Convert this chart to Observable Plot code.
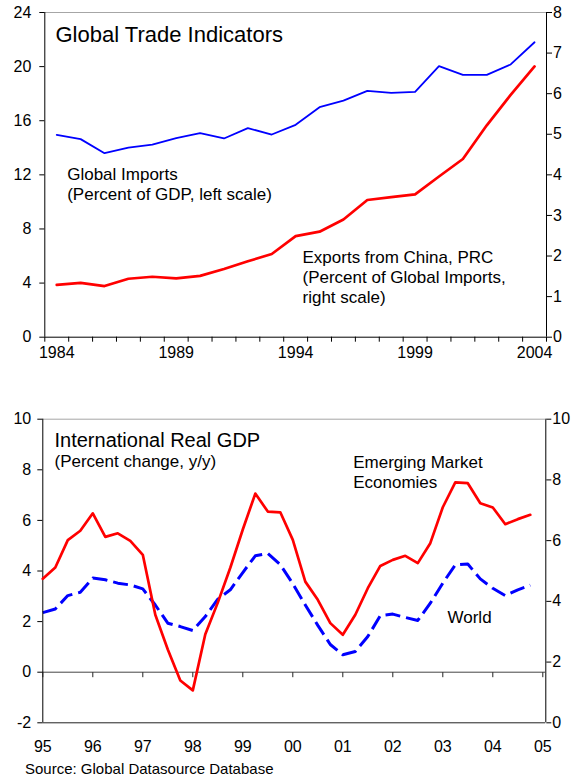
<!DOCTYPE html>
<html>
<head>
<meta charset="utf-8">
<script src="https://cdn.jsdelivr.net/npm/d3@7"></script>
<script src="https://cdn.jsdelivr.net/npm/@observablehq/plot@0.6"></script>
<style>
  html, body { margin: 0; padding: 0; background: #fff; }
  #wrap { position: relative; width: 573px; height: 778px; overflow: hidden;
          font-family: "Liberation Sans", Arial, sans-serif; color: #000; }
  .layer { position: absolute; left: 0; }
  .layer svg { display: block; background: transparent; }
  .caption { position: absolute; left: 25px; top: 761px; font-size: 15px; line-height: 15px; white-space: nowrap; }
</style>
</head>
<body>
<div id="wrap"></div>
<script>
// ---------- Top chart: Global Trade Indicators (annual) ----------
const tradeYears = [1984, 1985, 1986, 1987, 1988, 1989, 1990, 1991, 1992, 1993, 1994,
                    1995, 1996, 1997, 1998, 1999, 2000, 2001, 2002, 2003, 2004];
// Global imports, percent of GDP (left scale)
const globalImports = [14.96, 14.64, 13.60, 14.02, 14.24, 14.71, 15.08, 14.69, 15.45, 14.98, 15.70,
                       17.00, 17.49, 18.21, 18.06, 18.14, 20.03, 19.39, 19.39, 20.16, 21.80];
// Exports from China, percent of global imports (right scale)
const chinaExports = [1.29, 1.34, 1.26, 1.44, 1.49, 1.45, 1.51, 1.68, 1.87, 2.05, 2.49,
                      2.60, 2.90, 3.38, 3.45, 3.52, 3.96, 4.39, 5.22, 5.97, 6.67];
const tradeTickLabels = [1984, 1989, 1994, 1999, 2004];
const tradeLeftTicks = [0, 4, 8, 12, 16, 20, 24];
const tradeRightTicks = [0, 1, 2, 3, 4, 5, 6, 7, 8];

// ---------- Bottom chart: International Real GDP (quarterly) ----------
const gdpQuarters = [1995.00, 1995.25, 1995.50, 1995.75, 1996.00, 1996.25, 1996.50, 1996.75,
                     1997.00, 1997.25, 1997.50, 1997.75, 1998.00, 1998.25, 1998.50, 1998.75,
                     1999.00, 1999.25, 1999.50, 1999.75, 2000.00, 2000.25, 2000.50, 2000.75,
                     2001.00, 2001.25, 2001.50, 2001.75, 2002.00, 2002.25, 2002.50, 2002.75,
                     2003.00, 2003.25, 2003.50, 2003.75, 2004.00, 2004.25, 2004.50, 2004.75];
// Emerging market economies, % y/y (left scale)
const emergingMarkets = [3.69, 4.14, 5.22, 5.59, 6.28, 5.35, 5.49, 5.19,
                         4.64, 2.27, 0.90, -0.33, -0.72, 1.50, 2.75, 4.13,
                         5.64, 7.06, 6.35, 6.32, 5.23, 3.58, 2.86, 1.94,
                         1.48, 2.27, 3.32, 4.20, 4.44, 4.60, 4.31, 5.10,
                         6.52, 7.50, 7.47, 6.68, 6.51, 5.85, 6.05, 6.22];
// World, % y/y (right scale)
const worldGdp = [3.63, 3.75, 4.19, 4.30, 4.77, 4.71, 4.60, 4.54,
                  4.41, 3.88, 3.28, 3.17, 3.04, 3.50, 4.07, 4.38,
                  4.95, 5.50, 5.58, 5.21, 4.58, 3.88, 3.21, 2.58,
                  2.24, 2.35, 2.84, 3.53, 3.58, 3.47, 3.37, 3.94,
                  4.60, 5.20, 5.23, 4.74, 4.43, 4.19, 4.38, 4.53];
const gdpTickYears = [1995, 1996, 1997, 1998, 1999, 2000, 2001, 2002, 2003, 2004, 2005];
const gdpTickLabels = ["95", "96", "97", "98", "99", "00", "01", "02", "03", "04", "05"];
const gdpLeftTicks = [-2, 0, 2, 4, 6, 8, 10];
const gdpRightTicks = [0, 2, 4, 6, 8, 10];

// ---------- Texts ----------
const topTitle = "Global Trade Indicators";
const importsLabel = "Global Imports\n(Percent of GDP, left scale)";
const chinaLabel = "Exports from China, PRC\n(Percent of Global Imports,\nright scale)";
const gdpTitle = "International Real GDP";
const gdpSubtitle = "(Percent change, y/y)";
const emLabel = "Emerging Market\nEconomies";
const worldLabel = "World";
const sourceText = "Source: Global Datasource Database";

// ---------- Build ----------
const FONT = '"Liberation Sans", Arial, sans-serif';
const W = 573;
const RED = "#ff0000", BLUE = "#0000ff";
const wrap = document.getElementById("wrap");
function place(node, top) {
  const d = document.createElement("div");
  d.className = "layer";
  d.style.top = top + "px";
  d.appendChild(node);
  wrap.appendChild(d);
}
const baseStyle = {fontFamily: FONT, fontSize: "16px", color: "#000", background: "transparent", overflow: "visible"};

const tradeData = tradeYears.map((year, i) => ({year, imports: globalImports[i], china: chinaExports[i]}));
const tradeBounds = d3.range(1983.5, 2005, 1);
const topDims = {width: W, height: 380, marginLeft: 44.3, marginRight: 27, marginTop: 12, marginBottom: 43.3};
const tradeX = {domain: [1983.5, 2004.5]};

const topLeft = Plot.plot({
  ...topDims, style: baseStyle,
  x: tradeX,
  y: {domain: [0, 24]},
  marks: [
    Plot.ruleY([24], {stroke: "#a6a6a6", strokeWidth: 1}),
    Plot.ruleY([0], {stroke: "#000", strokeWidth: 1}),
    Plot.ruleX([1983.5], {stroke: "#000", strokeWidth: 1}),
    Plot.axisY({anchor: "left", ticks: tradeLeftTicks, tickSize: 5, tickPadding: 8.5, tickFormat: d => String(d), label: null}),
    Plot.axisX({ticks: tradeBounds, tickSize: 5, tickFormat: () => "", label: null}),
    Plot.axisX({ticks: tradeTickLabels, tickSize: 0, tickPadding: 9.5, tickFormat: d => String(d), label: null}),
    Plot.line(tradeData, {x: "year", y: "imports", stroke: BLUE, strokeWidth: 1.8}),
    Plot.text([topTitle], {text: d => d, frameAnchor: "top-left", textAnchor: "start", lineAnchor: "top", dx: 10.7, dy: 14, fontSize: 22}),
    Plot.text([importsLabel], {text: d => d, frameAnchor: "top-left", textAnchor: "start", lineAnchor: "top", dx: 22.4, dy: 153.7, fontSize: 17, lineHeight: 20 / 17})
  ]
});

const topRight = Plot.plot({
  ...topDims, style: baseStyle,
  x: {...tradeX, axis: null},
  y: {domain: [0, 8]},
  marks: [
    Plot.ruleX([2004.5], {stroke: "#000", strokeWidth: 1}),
    Plot.axisY({anchor: "right", ticks: tradeRightTicks, tickSize: 5, tickPadding: 1.5, tickFormat: d => String(d), label: null}),
    Plot.line(tradeData, {x: "year", y: "china", stroke: RED, strokeWidth: 2.7}),
    Plot.text([chinaLabel], {text: d => d, frameAnchor: "top-left", textAnchor: "start", lineAnchor: "top", dx: 257.7, dy: 236.3, fontSize: 17, lineHeight: 20 / 17})
  ]
});

place(topLeft, 0);
place(topRight, 0);

// Bottom chart
const gdpData = gdpQuarters.map((t, i) => ({t, em: emergingMarkets[i], world: worldGdp[i]}));
const botDims = {width: W, height: 390, marginLeft: 42.3, marginRight: 27.7, marginTop: 30.7, marginBottom: 55.7};
const gdpX = {domain: [1995, 2005.06]};
const tickDown = {draw(ctx) { ctx.moveTo(0, 0); ctx.lineTo(0, 5); }};
const labelOf = new Map(gdpTickYears.map((y, i) => [y, gdpTickLabels[i]]));

const botRight = Plot.plot({
  ...botDims, style: baseStyle,
  x: {...gdpX, axis: null},
  y: {domain: [0, 10]},
  marks: [
    Plot.ruleX([2005.06], {stroke: "#000", strokeWidth: 1}),
    Plot.axisY({anchor: "right", ticks: gdpRightTicks, tickSize: 5, tickPadding: 1.5, tickFormat: d => String(d), label: null}),
    Plot.line(gdpData, {x: "t", y: "world", stroke: BLUE, strokeWidth: 3, strokeDasharray: "15,6", strokeLinecap: "butt"}),
    Plot.text([worldLabel], {text: d => d, frameAnchor: "top-left", textAnchor: "start", lineAnchor: "top", dx: 404.7, dy: 192, fontSize: 17})
  ]
});

const botLeft = Plot.plot({
  ...botDims, style: baseStyle,
  x: gdpX,
  y: {domain: [-2, 10]},
  marks: [
    Plot.ruleY([10], {stroke: "#a6a6a6", strokeWidth: 1}),
    Plot.ruleY([-2], {stroke: "#222", strokeWidth: 1}),
    Plot.ruleY([0], {stroke: "#444", strokeWidth: 1}),
    Plot.ruleX([1995], {stroke: "#000", strokeWidth: 1}),
    Plot.dot(gdpTickYears, {x: d => d, y: () => 0, symbol: tickDown, stroke: "#222", fill: "none", strokeWidth: 1}),
    Plot.axisY({anchor: "left", ticks: gdpLeftTicks, tickSize: 5, tickPadding: 6.6, tickFormat: d => String(d), label: null}),
    Plot.axisX({ticks: gdpTickYears, tickSize: 0, tickPadding: 18.3, tickFormat: d => labelOf.get(d), label: null}),
    Plot.line(gdpData, {x: "t", y: "em", stroke: RED, strokeWidth: 2.7}),
    Plot.text([gdpTitle], {text: d => d, frameAnchor: "top-left", textAnchor: "start", lineAnchor: "top", dx: 11.7, dy: 13.6, fontSize: 20}),
    Plot.text([gdpSubtitle], {text: d => d, frameAnchor: "top-left", textAnchor: "start", lineAnchor: "top", dx: 11.7, dy: 36, fontSize: 17}),
    Plot.text([emLabel], {text: d => d, frameAnchor: "top-left", textAnchor: "start", lineAnchor: "top", dx: 310.4, dy: 35, fontSize: 17, lineHeight: 20 / 17})
  ]
});

place(botRight, 388);
place(botLeft, 388);

const cap = document.createElement("div");
cap.className = "caption";
cap.textContent = sourceText;
wrap.appendChild(cap);
</script>
</body>
</html>
